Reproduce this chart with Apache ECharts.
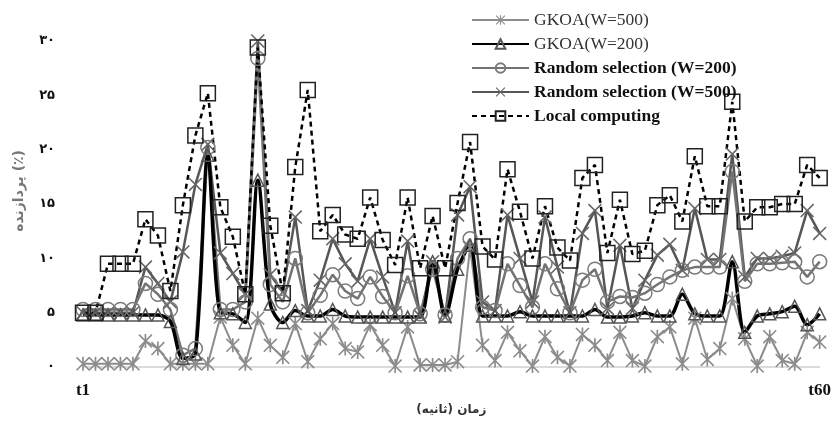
<!DOCTYPE html>
<html>
<head>
<meta charset="utf-8">
<script src="https://cdn.jsdelivr.net/npm/echarts@6/dist/echarts.min.js"></script>
<style>
  html, body { margin: 0; padding: 0; background: #fff; }
  #main { width: 834px; height: 421px; }
</style>
</head>
<body>
<div id="main"></div>
<script>
var chart = echarts.init(document.getElementById('main'));

// t1 .. t60
var categories = [];
for (var i = 1; i <= 60; i++) categories.push('t' + i);

var yTickLabels = ['۰', '۵', '۱۰', '۱۵', '۲۰', '۲۵', '۳۰'];

var gkoa500 = [0.3, 0.3, 0.3, 0.3, 0.3, 2.4, 1.7, 0.3, 0.3, 0.3,
  0.3, 4.6, 2.0, 0.3, 4.5, 2.0, 0.9, 4.0, 0.5, 2.6,
  4.0, 1.7, 1.4, 3.9, 2.0, 0.1, 3.7, 0.2, 0.2, 0.2,
  0.5, 11.0, 2.0, 0.6, 3.2, 1.5, 0.1, 2.8, 0.9, 0.1,
  3.0, 2.0, 0.6, 3.2, 0.6, 0.1, 2.8, 3.7, 0.3, 4.5,
  0.7, 1.7, 6.3, 2.6, 0.1, 2.8, 0.6, 0.3, 3.2, 2.3];

var gkoa200 = [4.8, 4.8, 4.8, 4.8, 4.8, 4.8, 4.8, 4.2, 0.8, 1.2,
  19.5, 5.0, 4.9, 4.1, 17.2, 5.8, 4.1, 5.2, 4.7, 4.7,
  5.3, 4.7, 4.6, 4.6, 4.6, 4.6, 4.6, 4.6, 9.7, 4.7,
  9.0, 11.2, 4.7, 4.7, 4.7, 5.1, 4.7, 4.7, 4.7, 4.7,
  4.7, 5.3, 4.6, 4.6, 4.7, 5.0, 4.7, 4.7, 6.7, 4.9,
  4.7, 4.7, 9.7, 3.2, 4.7, 4.9, 5.1, 5.6, 3.9, 4.9];

var random200 = [5.3, 5.3, 5.3, 5.3, 5.3, 7.7, 6.7, 5.3, 1.1, 1.7,
  20.2, 5.3, 5.3, 6.0, 28.4, 7.6, 6.0, 10.0, 5.0, 6.6,
  8.5, 7.0, 6.3, 8.3, 6.5, 5.0, 8.4, 4.9, 9.0, 4.8,
  10.0, 11.8, 5.5, 5.2, 9.5, 7.5, 5.5, 9.5, 7.2, 5.0,
  8.0, 9.0, 6.0, 6.5, 6.4, 6.8, 7.6, 8.3, 8.9, 9.2,
  9.2, 9.2, 18.0, 7.9, 9.5, 9.5, 9.6, 9.7, 8.3, 9.7];

var random500 = [5.0, 5.0, 5.0, 5.0, 5.0, 9.2, 7.7, 6.0, 10.6, 16.8,
  20.5, 10.5, 8.6, 6.7, 30.0, 8.5, 6.9, 13.8, 5.2, 8.0,
  11.8, 9.5, 7.9, 11.8, 8.3, 5.0, 11.6, 4.7, 9.7, 4.6,
  14.0, 16.6, 6.0, 5.2, 14.0, 10.0, 6.0, 13.8, 9.2, 5.0,
  12.3, 14.4, 5.4, 11.2, 5.4, 8.0, 10.3, 11.3, 8.9, 14.6,
  9.9, 9.9, 19.6, 8.3, 10.0, 10.0, 10.2, 10.5, 14.4, 12.3];

var local = [5.0, 5.0, 9.5, 9.5, 9.5, 13.6, 12.1, 7.0, 14.9, 21.3,
  25.2, 14.7, 12.0, 6.7, 29.4, 13.0, 6.8, 18.4, 25.5, 12.5,
  14.0, 12.2, 11.8, 15.6, 11.7, 9.4, 15.6, 9.1, 13.9, 9.1,
  15.1, 20.7, 11.1, 9.9, 18.2, 14.3, 10.0, 14.8, 11.0, 9.8,
  17.4, 18.6, 10.5, 15.4, 10.4, 10.7, 14.9, 15.8, 13.4, 19.4,
  14.8, 14.8, 24.4, 13.4, 14.7, 14.7, 15.0, 15.0, 18.6, 17.4];

var asteriskPath = 'path://M4.4 0L5.6 0L5.6 10L4.4 10Z M0 0.8L0.8 0L10 9.2L9.2 10Z M9.2 0L10 0.8L0.8 10L0 9.2Z';
var crossPath = 'path://M0 0.8L0.8 0L10 9.2L9.2 10Z M9.2 0L10 0.8L0.8 10L0 9.2Z';

var serif = '"Liberation Serif", "DejaVu Serif", serif';

option = {
  animation: false,
  backgroundColor: '#fff',
  grid: {
    left: 83,
    right: 12,
    top: 41,
    bottom: 31
  },
  legend: {
    orient: 'vertical',
    left: 466,
    top: 6,
    itemWidth: 57,
    itemHeight: 12,
    itemGap: 6,
    textStyle: {
      fontFamily: serif,
      fontSize: 17.5,
      fontWeight: 'bold',
      color: '#111'
    },
    data: [
      { name: 'GKOA(W=500)', textStyle: { fontWeight: 'normal', color: '#333' } },
      { name: 'GKOA(W=200)', textStyle: { fontWeight: 'normal', color: '#333' } },
      { name: 'Random selection (W=200)' },
      { name: 'Random selection (W=500)' },
      { name: 'Local computing' }
    ]
  },
  graphic: [{
    type: 'text',
    left: 12,
    top: 150,
    rotation: Math.PI / 2,
    style: {
      text: 'پردازنده (٪)',
      font: 'bold 14px "DejaVu Sans", sans-serif',
      fill: '#777'
    }
  }],
  xAxis: {
    type: 'category',
    boundaryGap: false,
    data: categories,
    name: 'زمان (ثانیه)',
    nameLocation: 'middle',
    nameGap: 15,
    nameTextStyle: {
      fontFamily: '"DejaVu Sans", sans-serif',
      fontSize: 12,
      fontWeight: 'bold',
      color: '#333'
    },
    axisLine: { lineStyle: { color: '#cfcfcf', width: 1.5 } },
    axisTick: { show: false },
    axisLabel: {
      interval: function (index) { return index === 0 || index === 59; },
      margin: 15,
      fontFamily: serif,
      fontSize: 17,
      fontWeight: 'bold',
      color: '#111'
    },
    splitLine: { show: false }
  },
  yAxis: {
    type: 'value',
    min: 0,
    max: 30,
    interval: 5,
    axisLine: { show: false },
    axisTick: { show: false },
    splitLine: { show: false },
    axisLabel: {
      margin: 28,
      fontFamily: '"DejaVu Sans", sans-serif',
      fontSize: 13,
      fontWeight: 'bold',
      color: '#111',
      formatter: function (v) { return yTickLabels[Math.round(v / 5)]; }
    }
  },
  series: [
    {
      name: 'GKOA(W=500)',
      type: 'line',
      data: gkoa500,
      showAllSymbol: true,
      symbol: asteriskPath,
      symbolSize: 14,
      lineStyle: { color: '#8c8c8c', width: 2 },
      itemStyle: { color: '#8c8c8c' }
    }, {
      name: 'Random selection (W=500)',
      type: 'line',
      data: random500,
      showAllSymbol: true,
      symbol: crossPath,
      symbolSize: 14,
      lineStyle: { color: '#565656', width: 2.5 },
      itemStyle: { color: '#666' }
    }, {
      name: 'Random selection (W=200)',
      type: 'line',
      data: random200,
      showAllSymbol: true,
      symbol: 'circle',
      symbolSize: 14,
      lineStyle: { color: '#737373', width: 2.5 },
      itemStyle: { color: 'none', borderColor: '#7a7a7a', borderWidth: 1.5 }
    }, {
      name: 'GKOA(W=200)',
      type: 'line',
      data: gkoa200,
      smooth: 0.3,
      showAllSymbol: true,
      symbol: 'triangle',
      symbolSize: 12,
      lineStyle: { color: '#000', width: 3.5 },
      itemStyle: { color: 'none', borderColor: '#555', borderWidth: 1.5 }
    }, {
      name: 'Local computing',
      type: 'line',
      data: local,
      showAllSymbol: true,
      symbol: 'rect',
      symbolSize: 15,
      lineStyle: { color: '#000', width: 2.5, type: [5, 4] },
      itemStyle: { color: 'none', borderColor: '#222', borderWidth: 1.5 }
    }
  ]
};

chart.setOption(option);
</script>
</body>
</html>
